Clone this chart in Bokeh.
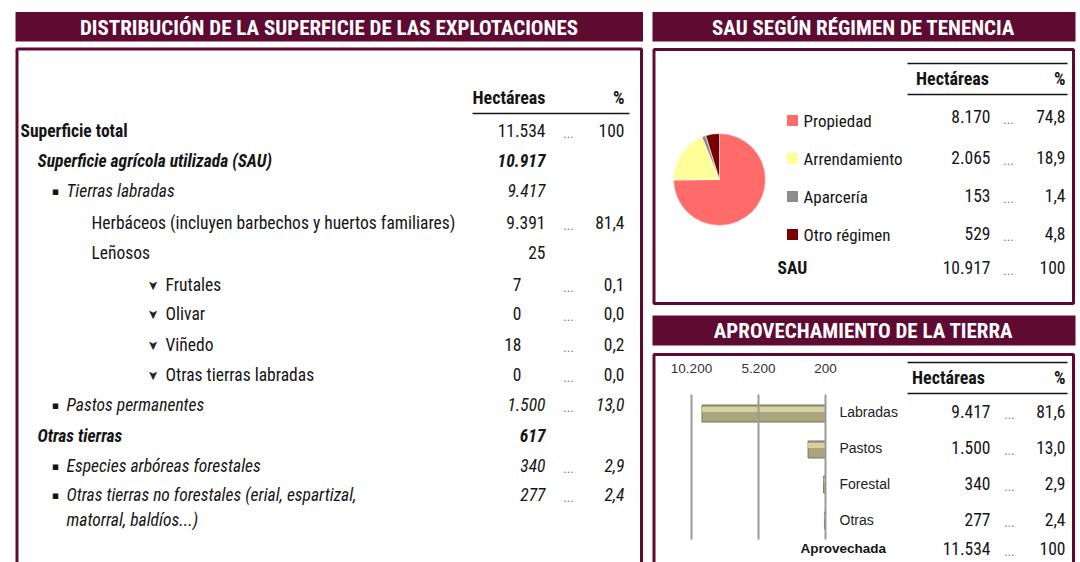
import numpy as np
from bokeh.plotting import figure
from bokeh.models import Range1d, ColumnDataSource
from bokeh.core.properties import value
from bokeh.embed import file_html
from bokeh.resources import INLINE

# ---------------- data ----------------
title_dist = "DISTRIBUCIÓN DE LA SUPERFICIE DE LAS EXPLOTACIONES"
title_ten = "SAU SEGÚN RÉGIMEN DE TENENCIA"
title_apr = "APROVECHAMIENTO DE LA TIERRA"
col_headers = ["Hectáreas", "%"]

dist_labels = [
    "Superficie total",
    "Superficie agrícola utilizada (SAU)",
    "Tierras labradas",
    "Herbáceos (incluyen barbechos y huertos familiares)",
    "Leñosos",
    "Frutales",
    "Olivar",
    "Viñedo",
    "Otras tierras labradas",
    "Pastos permanentes",
    "Otras tierras",
    "Especies arbóreas forestales",
    "Otras tierras no forestales (erial, espartizal,\nmatorral, baldíos...)",
]
dist_hect = [11534, 10917, 9417, 9391, 25, 7, 0, 18, 0, 1500, 617, 340, 277]
dist_pct = [100, None, None, 81.4, None, 0.1, 0.0, 0.2, 0.0, 13.0, None, 2.9, 2.4]

ten_labels = ["Propiedad", "Arrendamiento", "Aparcería", "Otro régimen"]
ten_hect = [8170, 2065, 153, 529]
ten_pct = [74.8, 18.9, 1.4, 4.8]
ten_total_label = "SAU"
ten_total = 10917
ten_total_pct = 100

apr_labels = ["Labradas", "Pastos", "Forestal", "Otras"]
apr_hect = [9417, 1500, 340, 277]
apr_pct = [81.6, 13.0, 2.9, 2.4]
apr_total_label = "Aprovechada"
apr_total = 11534
apr_total_pct = 100
apr_ticks = [10200, 5200, 200]

# ---------------- styles ----------------
MAROON = "#5e0a31"
INK = "#151515"
NARROW = "'Roboto Condensed', 'DejaVu Sans Condensed', sans-serif"
SANS = "Liberation Sans"
BODY = "17.5px"
TITLE = "21px"
pie_colors = ["#ff6b6b", "#ffff99", "#8c8c8c", "#7a0000"]


def fnum(n):
    return "{:,}".format(n).replace(",", ".")


def fpct(v):
    if v is None:
        return ""
    if v == 100:
        return "100"
    return ("%.1f" % v).replace(".", ",")


W, H = 1080, 562
p = figure(width=W, height=H, x_range=Range1d(0, W), y_range=Range1d(H, 0),
           output_backend="svg", toolbar_location=None, min_border=0,
           x_axis_location=None, y_axis_location=None)
p.grid.visible = False
p.outline_line_color = None
p.background_fill_color = "white"
p.border_fill_color = "white"


def txt(xs, ys, texts, size=BODY, style="normal", align="left", font=NARROW,
        color=INK, baseline="middle", angle=0, **kw):
    src = ColumnDataSource(dict(x=list(xs), y=list(ys), t=list(texts)))
    p.text(x="x", y="y", text="t", source=src, text_font=value(font),
           text_font_size=value(size), text_font_style=value(style),
           text_align=value(align), text_baseline=value(baseline),
           text_color=color, angle=angle, **kw)


# ---------------- panels ----------------
p.quad(left=[15, 652], right=[642.5, 1075], top=[11.5, 11.5], bottom=[41, 41],
       fill_color=MAROON, line_color=None)
p.quad(left=[652], right=[1075], top=[315], bottom=[345], fill_color=MAROON, line_color=None)
p.quad(left=[16.5, 653.5, 653.5], right=[641, 1073, 1073], top=[48.5, 49, 354],
       bottom=[620, 303, 620], fill_color=None, line_color=MAROON, line_width=3)

txt([328.5], [27], [title_dist], size=TITLE, style="bold", align="center", color="white")
txt([863], [27], [title_ten], size=TITLE, style="bold", align="center", color="white")
txt([863], [330], [title_apr], size=TITLE, style="bold", align="center", color="white")

# ---------------- left table ----------------
row_y = [130, 160, 190, 222, 252, 284, 313, 344, 374, 404, 435, 465, 494]
label_x = [20, 37, 66, 91, 91, 165, 165, 165, 165, 66, 37, 66, 66]
marks = ["", "", "b", "", "", "a", "a", "a", "a", "b", "", "b", "b"]
styles = ["bold", "bold italic", "italic", "normal", "normal", "normal", "normal", "normal",
          "normal", "italic", "bold italic", "italic", "italic"]
num_x = [545, 545, 545, 545, 545, 521, 521, 521, 521, 545, 545, 545, 545]
line_gap = 25

txt([545], [97], [col_headers[0]], size="18px", style="bold", align="right")
txt([624], [97], [col_headers[1]], size="18px", style="bold", align="right")
p.segment(x0=[472], x1=[629], y0=[113], y1=[113], line_color=INK, line_width=1.5)

for lab, h, pc, y, lx, mk, st, nx in zip(dist_labels, dist_hect, dist_pct, row_y, label_x,
                                          marks, styles, num_x):
    lines = lab.split("\n")
    txt([lx] * len(lines), [y + i * line_gap for i in range(len(lines))], lines, style=st)
    if mk == "b":
        txt([55], [y + 1], ["▪"], size="11px", font="DejaVu Sans", align="center")
    elif mk == "a":
        txt([153], [y + 1], ["➤"], size="13px", font="DejaVu Sans", align="center",
            angle=-np.pi / 2, color="#222")
    num_style = "bold italic" if st == "bold italic" else ("italic" if st == "italic" else "normal")
    txt([nx], [y], [fnum(h)], style=num_style, align="right")
    if pc is not None:
        txt([568], [y + 3], ["..."], size="13px", align="center", color="#777")
        txt([624], [y], [fpct(pc)], style=num_style, align="right")

# ---------------- tenencia: pie + table ----------------
tot = float(sum(ten_hect))
cum = np.cumsum([0] + ten_hect) / tot
start = np.pi / 2 - 2 * np.pi * cum[:-1]
end = np.pi / 2 - 2 * np.pi * cum[1:]
pie_src = ColumnDataSource(dict(s=start, e=end, c=pie_colors, lab=ten_labels))
p.wedge(x=719, y=179, radius=46, start_angle="s", end_angle="e", direction="clock",
        fill_color="c", line_color="white", line_width=0.6, source=pie_src)

ten_label_y = [120, 158, 196, 234]
ten_val_y = [116, 157, 195, 233]
p.rect(x=[792] * 4, y=ten_label_y, width=11, height=11, fill_color=pie_colors, line_color=None)
txt([803] * 4, ten_label_y, ten_labels, size="17px")
txt([990] * 4, ten_val_y, [fnum(v) for v in ten_hect], align="right")
txt([1008] * 4, [y + 3 for y in ten_val_y], ["..."] * 4, size="13px", align="center", color="#777")
txt([1065] * 4, ten_val_y, [fpct(v) for v in ten_pct], align="right")
txt([777], [267], [ten_total_label], style="bold")
txt([990], [267], [fnum(ten_total)], align="right")
txt([1008], [270], ["..."], size="13px", align="center", color="#777")
txt([1065], [267], [fpct(ten_total_pct)], align="right")

p.segment(x0=[907, 907], x1=[1067, 1067], y0=[63, 94], y1=[63, 94], line_color=INK, line_width=1.5)
txt([952], [78], [col_headers[0]], size="18px", style="bold", align="center")
txt([1065], [78], [col_headers[1]], size="18px", style="bold", align="right")

# ---------------- aprovechamiento: bars + table ----------------
ax_min, ax_max = min(apr_ticks), max(apr_ticks)
px_min, px_max = 825.0, 691.0  # screen placement of the bar axis
ppu = (px_min - px_max) / (ax_max - ax_min)
p.extra_x_ranges = {"bars": Range1d(start=ax_min + px_min / ppu,
                                    end=ax_min - (W - px_min) / ppu)}

apr_row_y = [413, 449, 484, 520]
bar_src = ColumnDataSource(dict(y=apr_row_y, v=apr_hect, l=[ax_min] * 4))
p.hbar(y="y", left="l", right="v", height=17, source=bar_src, x_range_name="bars",
       fill_color="#a9a57c", line_color="#77745f", line_width=1)
p.hbar(y=[y - 4 for y in apr_row_y], left=[ax_min] * 4, right=apr_hect, height=5,
       x_range_name="bars", fill_color="#d4d2a2", line_color=None)
p.segment(x0=apr_ticks, x1=apr_ticks, y0=[394] * 3, y1=[539] * 3, x_range_name="bars",
          line_color="#9a9a9a", line_width=2)
txt(apr_ticks, [368] * 3, [fnum(t) for t in apr_ticks], size="13.5px", font=SANS,
    align="center", color="#333", x_range_name="bars")

txt([839] * 4, [411, 447, 483, 519], apr_labels, size="14px", font=SANS, color="#222")
txt([990] * 4, [411, 447, 483, 519], [fnum(v) for v in apr_hect], align="right")
txt([1009] * 4, [414, 450, 486, 522], ["..."] * 4, size="13px", align="center", color="#777")
txt([1065] * 4, [411, 447, 483, 519], [fpct(v) for v in apr_pct], align="right")
txt([800], [548], [apr_total_label], size="13.5px", font=SANS, style="bold")
txt([990], [548], [fnum(apr_total)], align="right")
txt([1009], [551], ["..."], size="13px", align="center", color="#777")
txt([1065], [548], [fpct(apr_total_pct)], align="right")

p.segment(x0=[907, 907], x1=[1067, 1067], y0=[362, 393], y1=[362, 393], line_color=INK, line_width=1.5)
txt([948], [377], [col_headers[0]], size="18px", style="bold", align="center")
txt([1065], [377], [col_headers[1]], size="18px", style="bold", align="right")

open("out.html", "w").write(file_html(p, INLINE))
